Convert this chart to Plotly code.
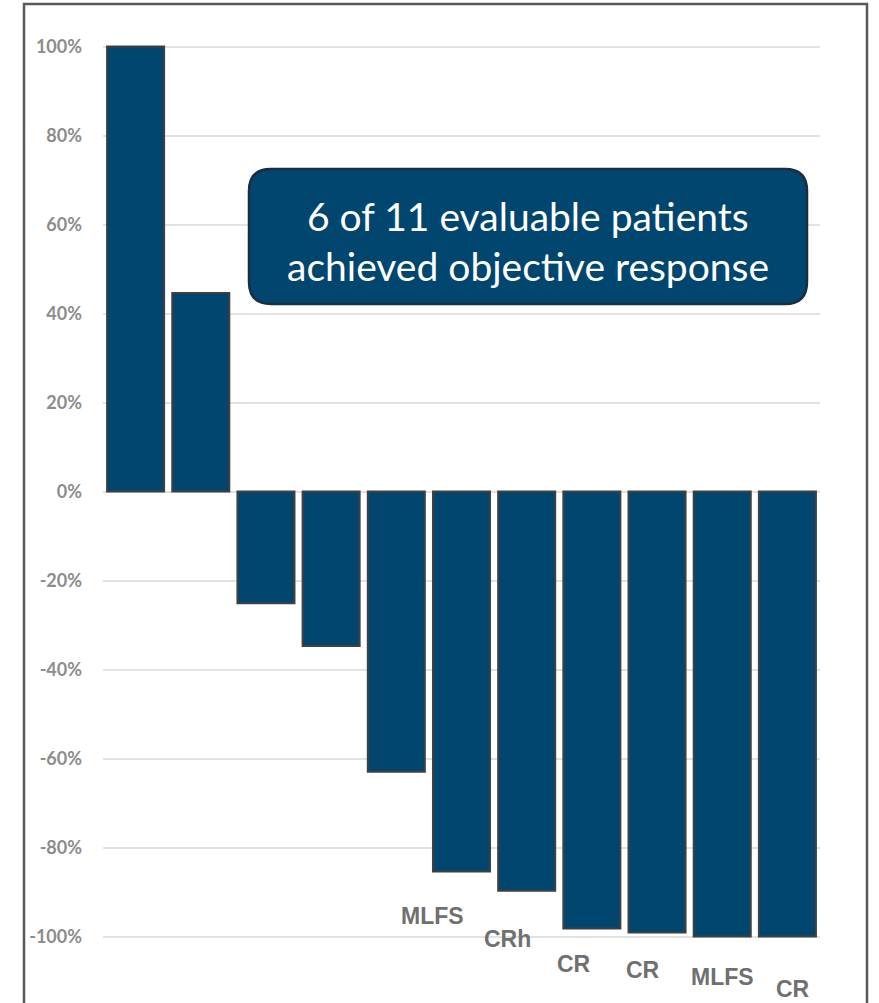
import plotly.graph_objects as go

# Best percentage change per evaluable patient, sorted
patients = [f"P{i}" for i in range(1, 12)]
change_pct = [100, 44.6, -25.1, -34.7, -63.0, -85.4, -89.7, -98.2, -99.1, -100, -100]

# Response categories shown under the responding patients
response_idx = [5, 6, 7, 8, 9, 10]
response_lbl = ["MLFS", "CRh", "CR", "CR", "MLFS", "CR"]
# label offsets (px) relative to the bar end
label_dx = [-29, -19, -18, -14, 0, 6]
label_dy = [-44, -48, -35, -37, -40, -52]

y_ticks = [100, 80, 60, 40, 20, 0, -20, -40, -60, -80, -100]
y_tick_text = [f"{t}%" for t in y_ticks]

W, H = 879, 1003
ML, MR, MT, MB = 103, 59, 0, 0
PW = W - ML - MR
PH = H - MT - MB

BAR = "#00466E"
EDGE = "#404040"

fig = go.Figure()
fig.add_trace(go.Bar(
    x=patients, y=change_pct,
    marker=dict(color=BAR, line=dict(color=EDGE, width=2)),
    hoverinfo="skip",
))


def px_x(px):
    return (px - ML) / PW


def px_y(py):
    return (H - MB - py) / PH


def rounded_rect(x0, y0, x1, y1, r):
    # path in paper coords from pixel corners
    X = px_x
    Y = px_y
    return (
        f"M {X(x0 + r)} {Y(y0)} L {X(x1 - r)} {Y(y0)} "
        f"Q {X(x1)} {Y(y0)} {X(x1)} {Y(y0 + r)} "
        f"L {X(x1)} {Y(y1 - r)} "
        f"Q {X(x1)} {Y(y1)} {X(x1 - r)} {Y(y1)} "
        f"L {X(x0 + r)} {Y(y1)} "
        f"Q {X(x0)} {Y(y1)} {X(x0)} {Y(y1 - r)} "
        f"L {X(x0)} {Y(y0 + r)} "
        f"Q {X(x0)} {Y(y0)} {X(x0 + r)} {Y(y0)} Z"
    )


shapes = [
    # outer frame (open at the bottom edge of the page)
    dict(type="rect", xref="paper", yref="paper",
         x0=px_x(24), x1=px_x(867), y0=px_y(1030), y1=px_y(4),
         line=dict(color="#595959", width=2.5), fillcolor="rgba(0,0,0,0)", layer="above"),
    # callout box
    dict(type="path", xref="paper", yref="paper",
         path=rounded_rect(249, 169, 807, 304, 22),
         fillcolor=BAR, line=dict(color="#1B2D40", width=2.5), layer="above"),
]

annotations = []
callout_lines = ["6 of 11 evaluable patients", "achieved objective response"]
for i, line in enumerate(callout_lines):
    annotations.append(dict(
        xref="paper", yref="paper", x=px_x(528), y=px_y(216 + 50 * i),
        text=line, showarrow=False, xanchor="center", yanchor="middle",
        font=dict(family="Lato", size=39, color="white"),
    ))

for k, idx in enumerate(response_idx):
    annotations.append(dict(
        x=patients[idx], y=change_pct[idx], text=response_lbl[k],
        showarrow=False, xanchor="center", yanchor="middle",
        xshift=label_dx[k], yshift=label_dy[k],
        font=dict(family="Liberation Sans", size=23, color="#707070", weight="bold"),
    ))

fig.update_layout(
    width=W, height=H,
    margin=dict(l=ML, r=MR, t=MT, b=MB, pad=0),
    paper_bgcolor="white", plot_bgcolor="white",
    bargap=0.125, showlegend=False,
    shapes=shapes, annotations=annotations,
    xaxis=dict(showticklabels=False, showgrid=False, zeroline=False,
               showline=False, ticks="", range=[-0.5, 10.5]),
    yaxis=dict(
        range=[-114.94, 110.45], tickvals=y_ticks, ticktext=y_tick_text,
        showgrid=True, gridcolor="#E2E2E2", gridwidth=1.5, zeroline=False,
        showline=False, ticks="", ticklabelstandoff=20,
        tickfont=dict(family="Lato", size=18, color="#8C8C8C", weight="bold"),
    ),
)

fig.write_html("out.html")
